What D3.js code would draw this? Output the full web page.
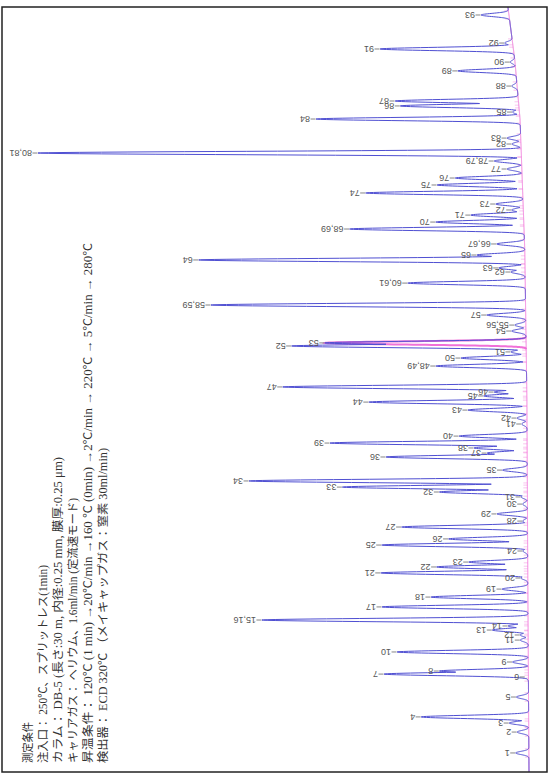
<!DOCTYPE html>
<html>
<head>
<meta charset="utf-8">
<script src="https://cdn.jsdelivr.net/npm/d3@7"></script>
<style>
body { margin: 0; background: #fff; }
</style>
</head>
<body>
<div id="chart"></div>
<script>
// peak numbers, retention time (min) and height above baseline (signal units)
const peakNames = ["1","2","3","4","5","6","7","8","9","10","11","12","13","14","15,16","17","18","19","20",
    "21","22","23","24","25","26","27","28","29","30","31","32","33","34","35","36","37","38","39","40",
    "41","42","43","44","45","46","47","48,49","50","51","52","53","54","55,56","57","58,59","60,61","62","63",
    "64","65","66,67","68,69","70","71","72","73","74","75","76","77","78,79","80,81","82","83","84","85",
    "86","87","88","89","90","91","92","93"];
const peakTimes = [1.12,2.35,2.88,3.24,4.41,5.59,5.76,5.94,6.47,7.06,7.76,8.06,8.35,8.59,8.94,9.71,10.29,10.76,11.41,
    11.71,12.06,12.35,13.00,13.35,13.71,14.41,14.76,15.18,15.76,16.18,16.47,16.76,17.12,17.76,18.53,18.76,19.06,19.35,19.76,
    20.47,20.82,21.29,21.76,22.12,22.35,22.65,23.88,24.35,24.71,25.06,25.24,25.94,26.29,26.88,27.47,28.76,29.41,29.65,
    30.12,30.41,31.06,31.94,32.35,32.76,33.06,33.41,34.06,34.53,34.94,35.47,35.94,36.41,36.94,37.29,38.41,38.82,
    39.18,39.47,40.35,41.24,41.76,42.53,42.88,44.53];
const peakHeights = [25,22,37,204,23,6,274,169,30,249,15,15,68,38,505,277,184,49,13,
    279,173,112,9,277,150,239,9,58,9,12,167,351,528,47,268,76,101,374,129,
    10,19,112,300,82,62,463,172,124,29,445,382,27,21,74,597,223,27,50,
    619,91,53,331,167,100,22,52,298,162,127,28,52,917,17,26,387,13,
    225,234,10,110,9,253,15,53];

// baseline drift
const baseTimes = [0, 10, 22, 30.7, 38.4, 41.9, 45];
const baseValues = [0, 2, 4, 8, 17, 27, 40];

// measurement conditions
const conditionLines = [
    "測定条件",
    "注入口： 250℃、スプリットレス(1min)",
    "カラム： DB-5 (長さ:30 m, 内径:0.25 mm, 膜厚:0.25 μm)",
    "キャリアガス： ヘリウム、1.6ml/min (定流速モード)",
    "昇温条件： 120℃ (1 min) →20℃/min →160 ℃ (0min) →2℃/min → 220℃ → 5℃/min → 280℃",
    "検出器： ECD  320℃ （メイキャップガス：窒素  30ml/min)"
];
const conditionLengths = [41, 198, 306, 265, 520, 315];

const width = 551, height = 777;
const frame = {left: 2, top: 7, right: 547, bottom: 772};

const svg = d3.select('#chart')
    .append('svg')
    .attr('width', width)
    .attr('height', height);

// time runs upwards, signal runs leftwards (chart is turned on its side)
const y = d3.scaleLinear().domain([0, 45]).range([frame.bottom, frame.top]);
const x = d3.scaleLinear().domain([0, 1000]).range([529, frame.left]);
const baseline = d3.scaleLinear().domain(baseTimes).range(baseValues);
const sigma = 0.094;

const peaks = peakNames.map((n, i) => ({name: n, t: peakTimes[i], h: peakHeights[i]}));

function peakValue(p, t) {
    const d = (t - p.t) / sigma;
    return Math.abs(d) < 7 ? p.h * Math.exp(-0.5 * d * d) : 0;
}

function signal(t) {
    let m = 0;
    peaks.forEach(p => {
        const v = peakValue(p, t);
        if (v > m) m = v;
    });
    return baseline(t) + m;
}

svg.append('clipPath').attr('id', 'clip')
    .append('rect')
    .attr('x', frame.left).attr('y', frame.top)
    .attr('width', frame.right - frame.left)
    .attr('height', frame.bottom - frame.top);

const plot = svg.append('g').attr('clip-path', 'url(#clip)');

const ts = d3.range(0, 45.0001, 0.01);

// pink integration baseline
plot.append('path')
    .datum(ts)
    .attr('d', d3.line().x(t => x(baseline(t))).y(t => y(t)))
    .attr('fill', 'none')
    .attr('stroke', '#f070d8')
    .attr('stroke-width', 1);

// pink start/end marks of each peak
plot.selectAll('line.mark')
    .data(peaks.flatMap(p => [p.t - 2.6 * sigma, p.t + 2.6 * sigma]))
    .enter().append('line')
    .attr('class', 'mark')
    .attr('x1', t => x(baseline(t)))
    .attr('x2', t => x(baseline(t)) - 4)
    .attr('y1', t => y(t))
    .attr('y2', t => y(t))
    .attr('stroke', '#f070d8')
    .attr('stroke-opacity', 0.6)
    .attr('stroke-width', 0.7);

// highlighted peak 53
const p53 = peaks.find(p => p.name === "53");
plot.append('path')
    .datum(d3.range(p53.t - 4 * sigma, p53.t + 4 * sigma, 0.005))
    .attr('d', d3.line().x(t => x(baseline(t) + peakValue(p53, t))).y(t => y(t)))
    .attr('fill', 'none')
    .attr('stroke', '#f070d8')
    .attr('stroke-width', 2);

// chromatogram trace
plot.append('path')
    .datum(ts)
    .attr('d', d3.line().x(t => x(signal(t))).y(t => y(t)))
    .attr('fill', 'none')
    .attr('stroke', '#4f4fd2')
    .attr('stroke-width', 1);

// peak labels, upside down, with a short leader
const lab = svg.append('g');
peaks.forEach(p => {
    const tipX = x(baseline(p.t) + p.h);
    const py = y(p.t);
    lab.append('line')
        .attr('x1', tipX - 5.5).attr('x2', tipX - 0.5)
        .attr('y1', py).attr('y2', py)
        .attr('stroke', '#666')
        .attr('stroke-width', 0.8);
    lab.append('text')
        .attr('transform', 'translate(' + (tipX - 6) + ',' + py + ') rotate(180)')
        .attr('dominant-baseline', 'central')
        .attr('font-family', 'Liberation Sans, Arial, sans-serif')
        .attr('font-size', 9)
        .attr('fill', '#555')
        .text(p.name);
});

// conditions block, reading bottom to top
svg.append('g').selectAll('text')
    .data(conditionLines)
    .enter().append('text')
    .attr('transform', (d, i) => 'translate(' + (28 + i * 15) + ',763) rotate(-90)')
    .attr('dominant-baseline', 'central')
    .attr('font-family', 'Liberation Serif, Noto Sans CJK JP, serif')
    .attr('font-size', 11.5)
    .attr('fill', '#333')
    .attr('textLength', (d, i) => conditionLengths[i])
    .attr('lengthAdjust', 'spacingAndGlyphs')
    .text(d => d);

// frame
svg.append('rect')
    .attr('x', frame.left).attr('y', frame.top)
    .attr('width', frame.right - frame.left)
    .attr('height', frame.bottom - frame.top)
    .attr('fill', 'none')
    .attr('stroke', '#222')
    .attr('stroke-width', 1.5);
</script>
</body>
</html>
